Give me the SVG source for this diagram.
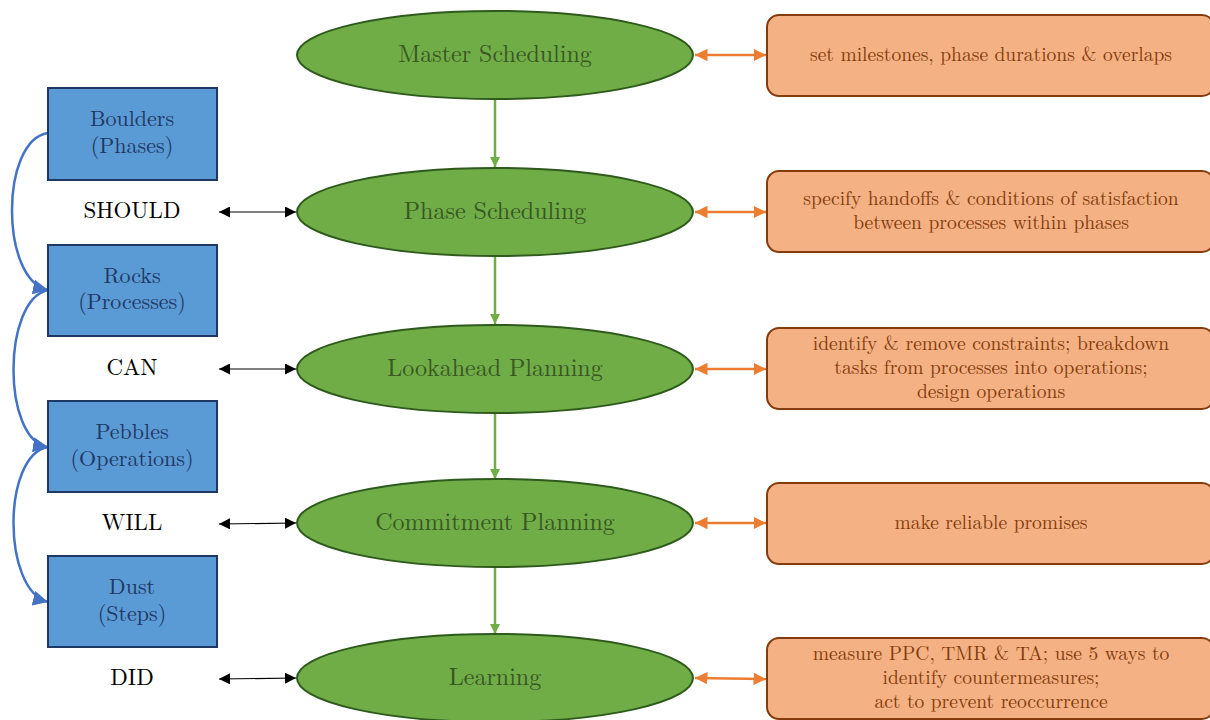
<svg xmlns="http://www.w3.org/2000/svg" width="1210" height="720" viewBox="0 0 1210 720">
<style>
.ell{fill:#70ad47;stroke:#2e5a1c;stroke-width:2}
.et{font-size:24px;fill:#385723;text-anchor:middle}
.ob{fill:#f4b183;stroke:#843c0c;stroke-width:2}
.ot{font-size:19.5px;fill:#843c0c;text-anchor:middle}
.bb{fill:#5b9bd5;stroke:#1f3864;stroke-width:2}
.bt{font-size:22px;fill:#1f3864;text-anchor:middle}
.lt{font-size:23px;fill:#000;text-anchor:middle}
.ga{stroke:#70ad47;stroke-width:2.5;fill:none;marker-end:url(#ag)}
.oa{stroke:#ed7d31;stroke-width:2.5;fill:none;marker-start:url(#aos);marker-end:url(#ao)}
.ka{stroke:#000;stroke-width:1.2;fill:none;marker-start:url(#aks);marker-end:url(#ak)}
.ba{stroke:#4472c4;stroke-width:2.5;fill:none;marker-end:url(#ab)}
</style>
<defs>
<marker id="ag" viewBox="0 0 10 10" refX="10" refY="5" markerWidth="4" markerHeight="4" orient="auto" markerUnits="strokeWidth"><path d="M0,0 L10,5 L0,10 z" fill="#70ad47"/></marker>
<marker id="ao" viewBox="0 0 10 10" refX="10" refY="5" markerWidth="5" markerHeight="5" orient="auto" markerUnits="strokeWidth"><path d="M0,0 L10,5 L0,10 z" fill="#ed7d31"/></marker>
<marker id="aos" viewBox="0 0 10 10" refX="0" refY="5" markerWidth="5" markerHeight="5" orient="auto" markerUnits="strokeWidth"><path d="M10,0 L0,5 L10,10 z" fill="#ed7d31"/></marker>
<marker id="ak" viewBox="0 0 10 10" refX="10" refY="5" markerWidth="11" markerHeight="11" orient="auto" markerUnits="userSpaceOnUse"><path d="M0,0 L10,5 L0,10 z" fill="#000"/></marker>
<marker id="aks" viewBox="0 0 10 10" refX="0" refY="5" markerWidth="11" markerHeight="11" orient="auto" markerUnits="userSpaceOnUse"><path d="M10,0 L0,5 L10,10 z" fill="#000"/></marker>
<marker id="ab" viewBox="0 0 10 10" refX="10" refY="5" markerWidth="6" markerHeight="6" orient="auto" markerUnits="strokeWidth"><path d="M0,0 L10,5 L0,10 z" fill="#4472c4"/></marker>
</defs>
<g id="connectors">
<path class="ga" d="M495,99 L495,167"/>
<path class="ga" d="M495,256 L495,324"/>
<path class="ga" d="M495,412 L495,479"/>
<path class="ga" d="M495,568 L495,634"/>
<path class="oa" d="M695,55 L766,55"/>
<path class="oa" d="M695,212 L766,212"/>
<path class="oa" d="M695,369 L766,369"/>
<path class="oa" d="M695,523 L766,523"/>
<path class="oa" d="M695,678 L766,679"/>
<path class="ka" d="M219,212 L296,212"/>
<path class="ka" d="M219,369 L296,369"/>
<path class="ka" d="M219,524 L296,523"/>
<path class="ka" d="M219,679 L296,678"/>
<path class="ba" d="M48,133 C0,140 0,280 48,290"/>
<path class="ba" d="M48,290 C2,300 2,440 48,447"/>
<path class="ba" d="M48,447 C2,455 2,590 48,602"/>
</g>
<g font-family="'Latin Modern Roman','Liberation Serif',serif">
<g id="master"><ellipse class="ell" cx="495" cy="55" rx="198" ry="44"/><text class="et" x="495" y="62">Master Scheduling</text></g>
<g id="phase"><ellipse class="ell" cx="495" cy="212" rx="198" ry="44"/><text class="et" x="495" y="219">Phase Scheduling</text></g>
<g id="lookahead"><ellipse class="ell" cx="495" cy="369" rx="198" ry="44"/><text class="et" x="495" y="376">Lookahead Planning</text></g>
<g id="commitment"><ellipse class="ell" cx="495" cy="523" rx="198" ry="44"/><text class="et" x="495" y="530">Commitment Planning</text></g>
<g id="learning"><ellipse class="ell" cx="495" cy="678" rx="198" ry="44"/><text class="et" x="495" y="685">Learning</text></g>
<g id="o1"><rect class="ob" x="767" y="15" width="447" height="81" rx="12"/><text class="ot" x="991" y="61">set milestones, phase durations &amp; overlaps</text></g>
<g id="o2"><rect class="ob" x="767" y="171" width="447" height="81" rx="12"/><text class="ot" x="991" y="205">specify handoffs &amp; conditions of satisfaction<tspan x="991" dy="24">between processes within phases</tspan></text></g>
<g id="o3"><rect class="ob" x="767" y="328" width="447" height="81" rx="12"/><text class="ot" x="991" y="350">identify &amp; remove constraints; breakdown<tspan x="991" dy="24">tasks from processes into operations;</tspan><tspan x="991" dy="24">design operations</tspan></text></g>
<g id="o4"><rect class="ob" x="767" y="483" width="447" height="81" rx="12"/><text class="ot" x="991" y="529">make reliable promises</text></g>
<g id="o5"><rect class="ob" x="767" y="638" width="447" height="81" rx="12"/><text class="ot" x="991" y="660">measure PPC, TMR &amp; TA; use 5 ways to<tspan x="991" dy="24">identify countermeasures;</tspan><tspan x="991" dy="24">act to prevent reoccurrence</tspan></text></g>
<g id="boulders"><rect class="bb" x="48" y="88" width="169" height="92"/><text class="bt" x="132" y="126">Boulders<tspan x="132" dy="27">(Phases)</tspan></text></g>
<g id="rocks"><rect class="bb" x="48" y="245" width="169" height="91"/><text class="bt" x="132" y="283">Rocks<tspan x="132" dy="26">(Processes)</tspan></text></g>
<g id="pebbles"><rect class="bb" x="48" y="401" width="169" height="91"/><text class="bt" x="132" y="439">Pebbles<tspan x="132" dy="27">(Operations)</tspan></text></g>
<g id="dust"><rect class="bb" x="48" y="556" width="169" height="91"/><text class="bt" x="132" y="594">Dust<tspan x="132" dy="27">(Steps)</tspan></text></g>
<g id="should"><text class="lt" x="132" y="218">SHOULD</text></g>
<g id="can"><text class="lt" x="132" y="375">CAN</text></g>
<g id="will"><text class="lt" x="132" y="530">WILL</text></g>
<g id="did"><text class="lt" x="132" y="685">DID</text></g>
</g>
</svg>
